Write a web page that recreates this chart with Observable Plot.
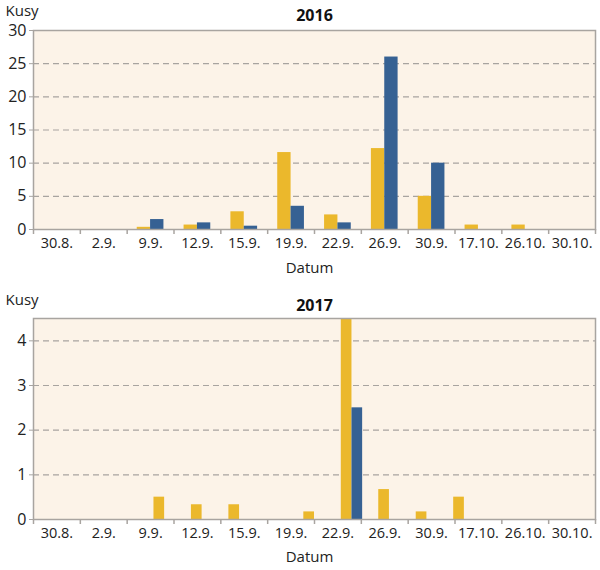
<!DOCTYPE html>
<html>
<head>
<meta charset="utf-8">
<script src="https://cdn.jsdelivr.net/npm/d3@7"></script>
<script src="https://cdn.jsdelivr.net/npm/@observablehq/plot@0.6"></script>
<style>
  html, body { margin: 0; padding: 0; background: #ffffff; }
  #chart svg { display: block; }
</style>
</head>
<body>
<div id="chart"></div>
<script>
const labels = ["30.8.", "2.9.", "9.9.", "12.9.", "15.9.", "19.9.", "22.9.", "26.9.", "30.9.", "17.10.", "26.10.", "30.10."];

// 2016: 12 categories
const values2016Yellow = [0, 0, 0.33, 0.67, 2.67, 11.6, 2.2, 12.2, 5, 0.67, 0.67, 0];
const values2016Blue   = [0, 0, 1.5, 1, 0.5, 3.5, 1, 26, 10, 0, 0, 0];

// 2017: 15 bar slots under the same 12 date labels
const values2017Yellow = [0, 0, 0, 0.5, 0.33, 0.33, 0, 0.17, 4.5, 0.67, 0.17, 0.5, 0, 0, 0];
const values2017Blue   = [0, 0, 0, 0, 0, 0, 0, 0, 2.5, 0, 0, 0, 0, 0, 0];

const yTicks2016 = [0, 5, 10, 15, 20, 25, 30];
const yTicks2017 = [0, 1, 2, 3, 4];

const YELLOW = "#ebb82c";
const BLUE = "#366193";
const GRAY = "#a8a4a0";
const BG = "#fcf3e8";
const FONT = "Open Sans, sans-serif";

function makeChart({title, yellow, blue, yMax, yTicks, marginTop, marginBottom, height, titleDy, kusyDy, labelDy, datumDy}) {
  const n = yellow.length;
  const rows = [];
  yellow.forEach((v, i) => { if (v > 0) rows.push({i, v, s: "yellow"}); });
  blue.forEach((v, i) => { if (v > 0) rows.push({i, v, s: "blue"}); });
  const w = 0.285;
  const boundaries = d3.range(0, 13).map(k => k * n / 12);
  const centers = labels.map((l, k) => ({l, x: (k + 0.5) * n / 12}));
  return Plot.plot({
    width: 600,
    height,
    marginLeft: 33,
    marginRight: 5,
    marginTop,
    marginBottom,
    style: {fontFamily: FONT, fontSize: "14px", color: "#222", background: "#fff", overflow: "visible"},
    x: {domain: [0, n], axis: null},
    y: {domain: [0, yMax], axis: null},
    marks: [
      Plot.frame({fill: BG, stroke: null}),
      Plot.gridY(yTicks.filter(t => t > 0 && t < yMax), {stroke: GRAY, strokeOpacity: 1, strokeWidth: 1.2, strokeDasharray: "6,4"}),
      Plot.rectY(rows, {
        x1: d => d.s === "yellow" ? d.i + 0.5 - w : d.i + 0.5,
        x2: d => d.s === "yellow" ? d.i + 0.5 : d.i + 0.5 + w,
        y1: 0,
        y2: "v",
        fill: d => d.s === "yellow" ? YELLOW : BLUE,
        clip: true
      }),
      Plot.frame({stroke: GRAY, strokeWidth: 1.5}),
      Plot.axisY(yTicks, {label: null, tickSize: 4, tickPadding: 3, stroke: GRAY, fontSize: 16, fill: "#222"}),
      Plot.axisX(boundaries, {label: null, tickSize: 5, tickFormat: () => "", stroke: GRAY, strokeWidth: 1.5}),
      Plot.text(centers, {x: "x", text: "l", frameAnchor: "bottom", lineAnchor: "middle", dy: labelDy, fontSize: 14.5, fill: "#222"}),
      Plot.text(["Datum"], {frameAnchor: "bottom", lineAnchor: "middle", dy: datumDy, dx: -5, fontSize: 15, fill: "#222"}),
      Plot.text(["Kusy"], {frameAnchor: "top-left", lineAnchor: "middle", dx: -28, dy: kusyDy, textAnchor: "start", fontSize: 15, fill: "#222"}),
      Plot.text([title], {frameAnchor: "top", lineAnchor: "middle", dy: titleDy, fontSize: 16, fontWeight: "bold", fill: "#111"})
    ]
  });
}

const chart = document.getElementById("chart");
chart.append(makeChart({
  title: "2016", yellow: values2016Yellow, blue: values2016Blue,
  yMax: 30, yTicks: yTicks2016, marginTop: 30, marginBottom: 56, height: 285,
  titleDy: -15, kusyDy: -19, labelDy: 14, datumDy: 39
}));
chart.append(makeChart({
  title: "2017", yellow: values2017Yellow, blue: values2017Blue,
  yMax: 4.5, yTicks: yTicks2017, marginTop: 33, marginBottom: 51, height: 285,
  titleDy: -13, kusyDy: -18, labelDy: 14, datumDy: 38
}));
</script>
</body>
</html>
